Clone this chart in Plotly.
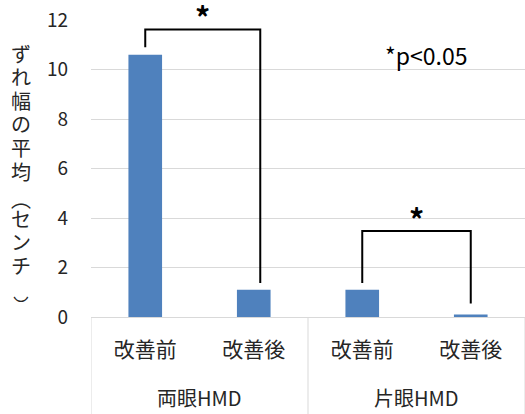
import plotly.graph_objects as go

# ---- data ----
groups = ["両眼HMD", "片眼HMD"]
conditions = ["改善前", "改善後", "改善前", "改善後"]
values = [10.6, 1.1, 1.1, 0.1]
y_ticks = [0, 2, 4, 6, 8, 10, 12]
y_title_chars = ["ず", "れ", "幅", "の", "平", "均", "⌒", "セ", "ン", "チ", "‿"]
sig_label = "*p<0.05"
# brackets: (left bar index, right bar index, left leg bottom, right leg bottom, top)
brackets = [(0, 1, 10.9, 1.37, 11.62), (2, 3, 1.37, 0.55, 3.47)]

FONT = "Noto Sans CJK JP, Noto Sans, sans-serif"
BAR = "#4F81BD"
GRID = "#D9D9D9"
TXT = "#262626"

W, H = 525, 414
ML, MR, MT, MB = 91, 0, 20, 97
PW, PH = W - ML - MR, H - MT - MB


def px_to_paper(px, py):
    return (px - ML) / PW, (H - MB - py) / PH


xs = list(range(len(values)))
fig = go.Figure()
fig.add_trace(go.Bar(x=xs, y=values, width=0.31, marker=dict(color=BAR, line=dict(width=0)),
                     hoverinfo="skip"))

for li, ri, lb, rb, top in brackets:
    xl, xr = xs[li], xs[ri] + (0.06 if li == 0 else 0.0)
    fig.add_trace(go.Scatter(x=[xl, xl, xr, xr], y=[lb, top, top, rb], mode="lines",
                             line=dict(color="black", width=2), hoverinfo="skip"))
    fig.add_annotation(x=(xl + xr) / 2, y=top, yshift=13, text="<b>*</b>", showarrow=False,
                       font=dict(family=FONT, size=30, color="black"), yanchor="middle")

fig.add_annotation(x=2.59, y=10.6, text=sig_label, showarrow=False,
                   font=dict(family=FONT, size=23, color="black"))

# group labels and dividers
for gi, g in enumerate(groups):
    fig.add_annotation(x=gi * 2 + 0.5, y=px_to_paper(0, 397)[1], xref="x", yref="paper", text=g,
                       showarrow=False, yanchor="middle",
                       font=dict(family=FONT, size=20, color=TXT))
for dx in [-0.5, 1.5, 3.5]:
    fig.add_shape(type="line", x0=dx, x1=dx, y0=0, y1=px_to_paper(0, 414)[1], xref="x", yref="paper",
                  line=dict(color=GRID, width=1))

# vertical y-axis title, one character per line (arc glyphs for the vertical brackets)
n = len(y_title_chars)
for i, ch in enumerate(y_title_chars):
    cy = 53 + i * (289 - 53) / (n - 1)
    px, py = px_to_paper(21, cy)
    size, shift = 20, 0
    if ch == "⌒":
        shift = -18
    elif ch == "‿":
        size, shift = 26, 5
    fig.add_annotation(x=px, y=py, xref="paper", yref="paper", text=ch, showarrow=False,
                       xanchor="center", yanchor="middle", yshift=shift,
                       font=dict(family=FONT, size=size, color=TXT))

fig.update_layout(
    width=W, height=H,
    margin=dict(l=ML, r=MR, t=MT, b=MB, autoexpand=False),
    paper_bgcolor="white", plot_bgcolor="white",
    showlegend=False,
    font=dict(family=FONT, color=TXT),
    xaxis=dict(range=[-0.5, 3.5], tickmode="array", tickvals=xs, ticktext=conditions,
               showgrid=False, zeroline=False, showline=False, ticks="", ticklabelstandoff=18,
               automargin=False,
               tickfont=dict(family=FONT, size=21, color=TXT), fixedrange=True),
    yaxis=dict(range=[0, 12], tickmode="array", tickvals=y_ticks, showgrid=True, gridcolor=GRID,
               gridwidth=1, zeroline=True, zerolinecolor=GRID, zerolinewidth=1, showline=False,
               automargin=False,
               ticks="", ticklabelstandoff=22, tickfont=dict(family=FONT, size=19, color=TXT)),
)

fig.write_html("out.html", config={"displayModeBar": False},
               post_script="document.body.style.margin='0';document.body.style.overflow='hidden';")
